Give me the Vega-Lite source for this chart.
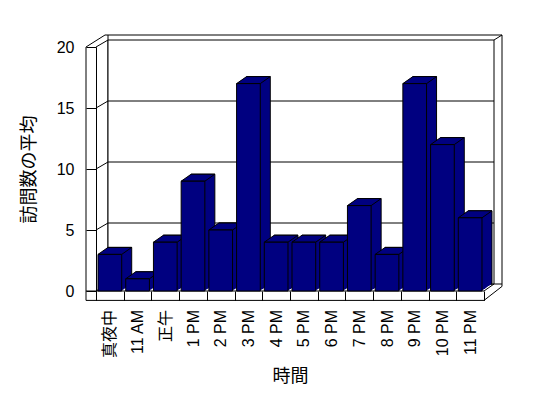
{
  "$schema": "https://vega.github.io/schema/vega-lite/v6.json",
  "width": 388,
  "height": 244,
  "autosize": {"type": "none"},
  "padding": {"left": 96, "top": 47, "right": 64, "bottom": 107},
  "background": "white",
  "config": {"view": {"stroke": null}},
  "resolve": {"scale": {"x": "independent"}},
  "layer": [
    {
      "data": {"values": [{}]},
      "layer": [
        {
          "mark": {"type": "rect", "fill": "white", "stroke": "black", "strokeWidth": 1, "xOffset": 12, "x2Offset": 18, "yOffset": -12, "y2Offset": -7},
          "encoding": {
            "x": {"datum": 0, "type": "quantitative", "scale": {"domain": [0, 14], "nice": false, "zero": false}, "axis": null},
            "x2": {"datum": 14},
            "y": {"datum": 20, "type": "quantitative"},
            "y2": {"datum": 0}
          }
        },
        {
          "mark": {"type": "rect", "fill": "white", "stroke": "black", "strokeWidth": 1, "xOffset": 12, "x2Offset": 10, "yOffset": -7, "y2Offset": -7},
          "encoding": {
            "x": {"datum": 0, "type": "quantitative", "scale": {"domain": [0, 14], "nice": false, "zero": false}, "axis": null},
            "x2": {"datum": 14},
            "y": {"datum": 20, "type": "quantitative"},
            "y2": {"datum": 0}
          }
        },
        {
          "data": {"values": [{"v": 5}, {"v": 10}, {"v": 15}]},
          "mark": {"type": "rule", "color": "black", "strokeWidth": 1, "xOffset": 12, "x2Offset": 10, "yOffset": -7},
          "encoding": {
            "x": {"datum": 0, "type": "quantitative", "scale": {"domain": [0, 14], "nice": false, "zero": false}, "axis": null},
            "x2": {"datum": 14},
            "y": {"field": "v", "type": "quantitative"}
          }
        },
        {
          "data": {"values": [{"v": 0}, {"v": 5}, {"v": 10}, {"v": 15}, {"v": 20}]},
          "mark": {"type": "rule", "color": "black", "strokeWidth": 1, "xOffset": 0, "x2Offset": 12, "yOffset": 0, "y2Offset": -7},
          "encoding": {
            "x": {"datum": 0, "type": "quantitative", "scale": {"domain": [0, 14], "nice": false, "zero": false}, "axis": null},
            "x2": {"datum": 0},
            "y": {"field": "v", "type": "quantitative"},
            "y2": {"field": "v"}
          }
        },
        {
          "mark": {"type": "rule", "color": "black", "strokeWidth": 1, "xOffset": -10, "yOffset": 0, "y2Offset": 9.4},
          "encoding": {
            "x": {"datum": 0, "type": "quantitative", "scale": {"domain": [0, 14], "nice": false, "zero": false}, "axis": null},
            "y": {"datum": 20, "type": "quantitative"},
            "y2": {"datum": 0}
          }
        },
        {
          "mark": {"type": "rule", "color": "black", "strokeWidth": 1, "xOffset": -10, "x2Offset": 9, "yOffset": 0, "y2Offset": -12},
          "encoding": {
            "x": {"datum": 0, "type": "quantitative", "scale": {"domain": [0, 14], "nice": false, "zero": false}, "axis": null},
            "x2": {"datum": 0},
            "y": {"datum": 20, "type": "quantitative"},
            "y2": {"datum": 20}
          }
        },
        {
          "mark": {"type": "rule", "color": "black", "strokeWidth": 1, "xOffset": 9, "x2Offset": 12, "yOffset": -12},
          "encoding": {
            "x": {"datum": 0, "type": "quantitative", "scale": {"domain": [0, 14], "nice": false, "zero": false}, "axis": null},
            "x2": {"datum": 0},
            "y": {"datum": 20, "type": "quantitative"}
          }
        },
        {
          "mark": {"type": "rule", "color": "black", "strokeWidth": 1, "xOffset": 10, "x2Offset": 18, "yOffset": -7, "y2Offset": -12},
          "encoding": {
            "x": {"datum": 14, "type": "quantitative", "scale": {"domain": [0, 14], "nice": false, "zero": false}, "axis": null},
            "x2": {"datum": 14},
            "y": {"datum": 20, "type": "quantitative"},
            "y2": {"datum": 20}
          }
        },
        {
          "mark": {"type": "rule", "color": "black", "strokeWidth": 1, "xOffset": -10, "x2Offset": 0, "yOffset": 0},
          "encoding": {
            "x": {"datum": 0, "type": "quantitative", "scale": {"domain": [0, 14], "nice": false, "zero": false}, "axis": null},
            "x2": {"datum": 14},
            "y": {"datum": 0, "type": "quantitative"}
          }
        },
        {
          "mark": {"type": "rule", "color": "black", "strokeWidth": 1, "xOffset": -10, "x2Offset": 0, "yOffset": 9.4},
          "encoding": {
            "x": {"datum": 0, "type": "quantitative", "scale": {"domain": [0, 14], "nice": false, "zero": false}, "axis": null},
            "x2": {"datum": 14},
            "y": {"datum": 0, "type": "quantitative"}
          }
        },
        {
          "mark": {"type": "rule", "color": "black", "strokeWidth": 1, "xOffset": 0, "x2Offset": 10, "yOffset": 0, "y2Offset": -7},
          "encoding": {
            "x": {"datum": 14, "type": "quantitative", "scale": {"domain": [0, 14], "nice": false, "zero": false}, "axis": null},
            "x2": {"datum": 14},
            "y": {"datum": 0, "type": "quantitative"},
            "y2": {"datum": 0}
          }
        },
        {
          "mark": {"type": "rule", "color": "black", "strokeWidth": 1, "xOffset": 0, "x2Offset": 18, "yOffset": 9.4, "y2Offset": -4.6},
          "encoding": {
            "x": {"datum": 14, "type": "quantitative", "scale": {"domain": [0, 14], "nice": false, "zero": false}, "axis": null},
            "x2": {"datum": 14},
            "y": {"datum": 0, "type": "quantitative"},
            "y2": {"datum": 0}
          }
        },
        {
          "mark": {"type": "rule", "color": "black", "strokeWidth": 1, "xOffset": 18, "yOffset": -7, "y2Offset": -4.6},
          "encoding": {
            "x": {"datum": 14, "type": "quantitative", "scale": {"domain": [0, 14], "nice": false, "zero": false}, "axis": null},
            "y": {"datum": 0, "type": "quantitative"},
            "y2": {"datum": 0}
          }
        }
      ]
    },
    {
      "data": {
        "values": [
          {"hour": "真夜中", "avg": 3},
          {"hour": "11 AM", "avg": 1},
          {"hour": "正午", "avg": 4},
          {"hour": "1 PM", "avg": 9},
          {"hour": "2 PM", "avg": 5},
          {"hour": "3 PM", "avg": 17},
          {"hour": "4 PM", "avg": 4},
          {"hour": "5 PM", "avg": 4},
          {"hour": "6 PM", "avg": 4},
          {"hour": "7 PM", "avg": 7},
          {"hour": "8 PM", "avg": 3},
          {"hour": "9 PM", "avg": 17},
          {"hour": "10 PM", "avg": 12},
          {"hour": "11 PM", "avg": 6}
        ]
      },
      "encoding": {
        "x": {
          "field": "hour", "type": "nominal", "sort": null, "title": "時間",
          "scale": {"paddingInner": 0, "paddingOuter": 0},
          "axis": {
            "labelAngle": -90, "domain": false, "ticks": true, "tickBand": "extent", "tickSize": 9.4,
            "tickColor": "black", "tickWidth": 1, "labelPadding": 9, "labelFontSize": 16,
            "labelFont": "Liberation Sans, Noto Sans CJK JP", "labelColor": "black",
            "titleFont": "Noto Sans CJK JP", "titleFontSize": 18, "titleFontWeight": "normal",
            "titleColor": "black", "titlePadding": 10
          }
        },
        "y": {
          "field": "avg", "type": "quantitative", "title": "訪問数の平均",
          "scale": {"domain": [0, 20], "nice": false},
          "axis": {
            "values": [0, 5, 10, 15, 20], "grid": false, "domain": true, "domainColor": "black",
            "tickColor": "black", "tickSize": 10, "labelPadding": 12, "labelFontSize": 16,
            "labelFont": "Liberation Sans", "labelColor": "black",
            "titleFont": "Noto Sans CJK JP", "titleFontSize": 18, "titleFontWeight": "normal",
            "titleColor": "black", "titlePadding": 18
          }
        }
      },
      "layer": [
        {"mark": {"type": "bar", "width": {"band": 0.855}, "fill": "#000080", "stroke": "black", "strokeWidth": 1, "xOffset": 10, "x2Offset": 10, "yOffset": -7, "y2Offset": -7}},
        {"mark": {"type": "bar", "width": {"band": 0.855}, "fill": "#000080", "strokeWidth": 0, "xOffset": 1, "x2Offset": 1, "yOffset": -0.7, "y2Offset": -0.7}},
        {"mark": {"type": "bar", "width": {"band": 0.855}, "fill": "#000080", "strokeWidth": 0, "xOffset": 2, "x2Offset": 2, "yOffset": -1.4, "y2Offset": -1.4}},
        {"mark": {"type": "bar", "width": {"band": 0.855}, "fill": "#000080", "strokeWidth": 0, "xOffset": 3, "x2Offset": 3, "yOffset": -2.1, "y2Offset": -2.1}},
        {"mark": {"type": "bar", "width": {"band": 0.855}, "fill": "#000080", "strokeWidth": 0, "xOffset": 4, "x2Offset": 4, "yOffset": -2.8, "y2Offset": -2.8}},
        {"mark": {"type": "bar", "width": {"band": 0.855}, "fill": "#000080", "strokeWidth": 0, "xOffset": 5, "x2Offset": 5, "yOffset": -3.5, "y2Offset": -3.5}},
        {"mark": {"type": "bar", "width": {"band": 0.855}, "fill": "#000080", "strokeWidth": 0, "xOffset": 6, "x2Offset": 6, "yOffset": -4.2, "y2Offset": -4.2}},
        {"mark": {"type": "bar", "width": {"band": 0.855}, "fill": "#000080", "strokeWidth": 0, "xOffset": 7, "x2Offset": 7, "yOffset": -4.9, "y2Offset": -4.9}},
        {"mark": {"type": "bar", "width": {"band": 0.855}, "fill": "#000080", "strokeWidth": 0, "xOffset": 8, "x2Offset": 8, "yOffset": -5.6, "y2Offset": -5.6}},
        {"mark": {"type": "bar", "width": {"band": 0.855}, "fill": "#000080", "strokeWidth": 0, "xOffset": 9, "x2Offset": 9, "yOffset": -6.3, "y2Offset": -6.3}},
        {"mark": {"type": "point", "shape": "M-1.185,0L1.185,0L2.185,-0.7L-0.185,-0.7Z", "size": 400, "filled": true, "fill": "#000080", "stroke": "black", "strokeWidth": 1, "opacity": 1}},
        {"mark": {"type": "bar", "width": {"band": 0.855}, "fill": "#000080", "stroke": "black", "strokeWidth": 1}}
      ]
    }
  ]
}
